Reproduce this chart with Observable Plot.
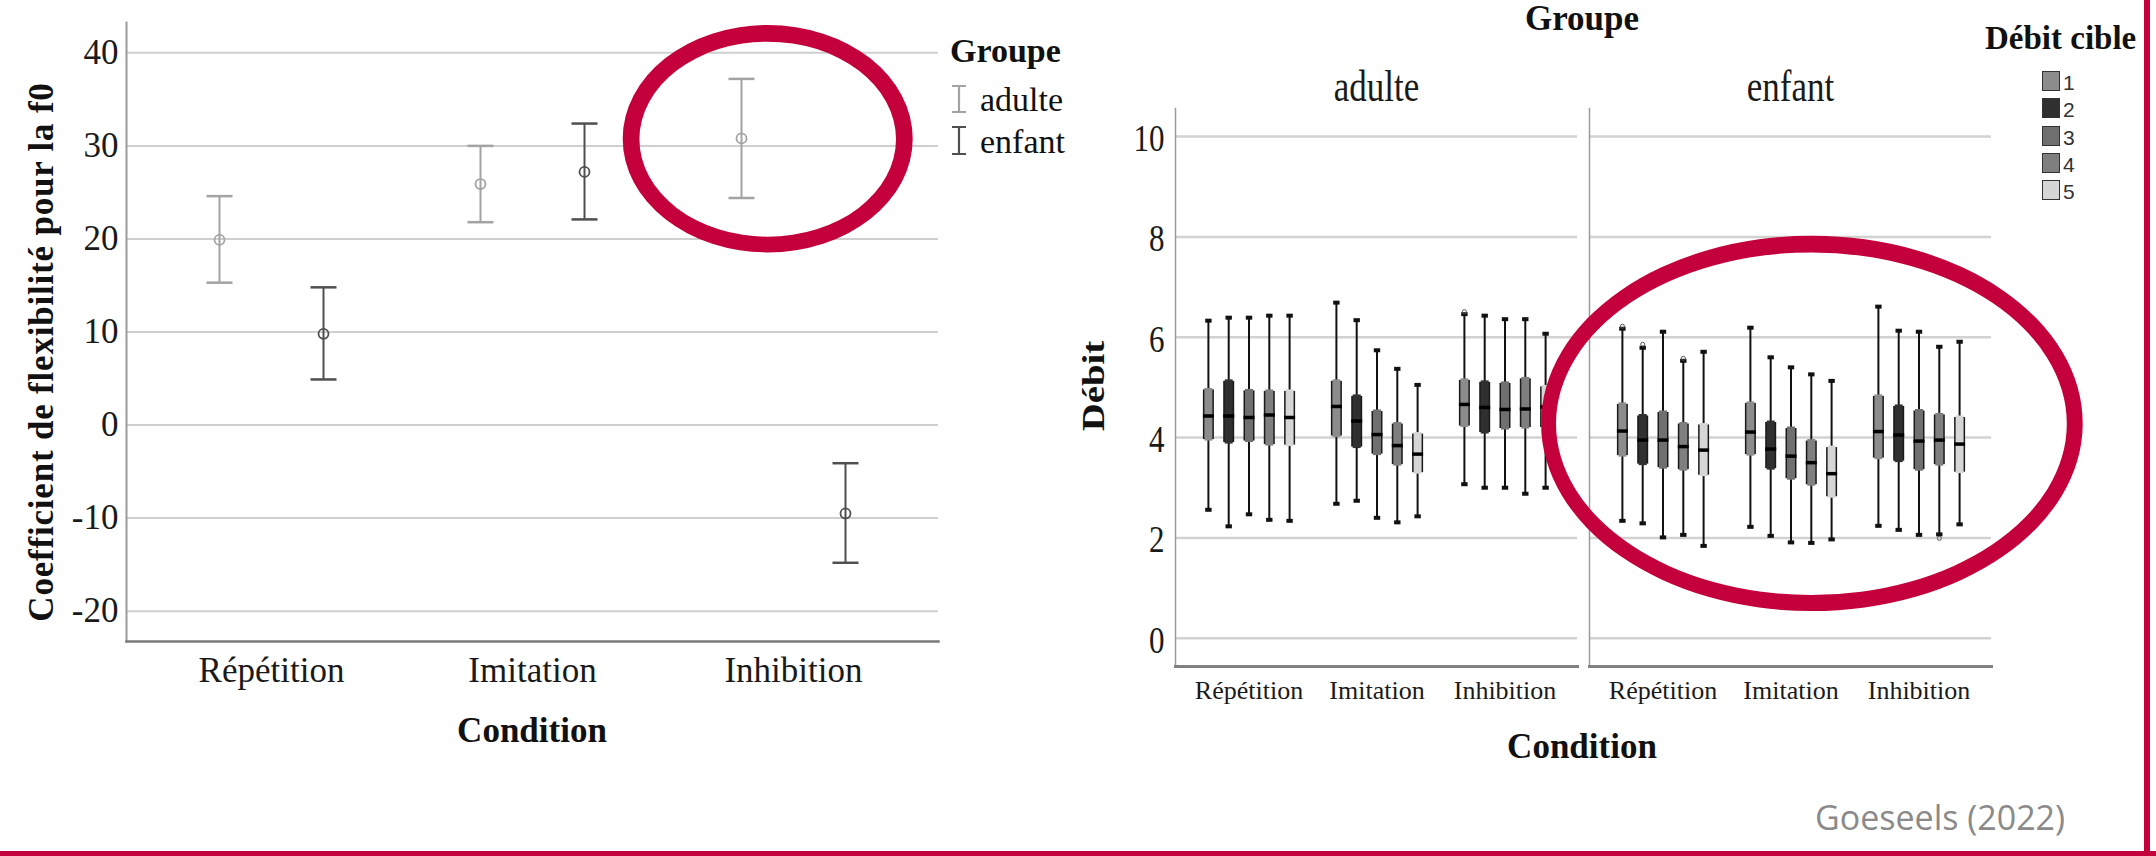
<!DOCTYPE html>
<html><head><meta charset="utf-8">
<script src="https://cdn.jsdelivr.net/npm/d3@7"></script>
<script src="https://cdn.jsdelivr.net/npm/@observablehq/plot@0.6"></script>
<style>
html,body{margin:0;padding:0;background:#fff;}
#root{position:relative;width:2156px;height:856px;overflow:hidden;background:#fff;font-family:"Liberation Serif","Times New Roman",serif;color:#111;}
.abs{position:absolute;white-space:nowrap;line-height:1;}
.b{font-weight:bold;}
</style></head><body><div id="root"></div>
<script>
// ---------- DATA ----------
const conditions = ["Répétition", "Imitation", "Inhibition"];
const groupes = ["adulte", "enfant"];

// Left chart: coefficient de flexibilité pour la f0 (mean and interval)
const flexMeanAdulte = [19.9, 25.9, 30.8];
const flexLowAdulte  = [15.3, 21.8, 24.4];
const flexHighAdulte = [24.6, 30.0, 37.2];
const flexMeanEnfant = [9.8, 27.2, -9.5];
const flexLowEnfant  = [4.9, 22.1, -14.8];
const flexHighEnfant = [14.8, 32.4, -4.1];
const flexTicks = [-20, -10, 0, 10, 20, 30, 40];

// Right chart: Débit boxplots, order = groupe × condition × débit cible (1..5)
const debits = ["1", "2", "3", "4", "5"];
const debitColors = ["#8c8c8c", "#303030", "#6f6f6f", "#7f7f7f", "#d6d6d6"];
const debitTicks = [0, 2, 4, 6, 8, 10];
const whiskerLow = [
  2.56, 2.23, 2.47, 2.36, 2.34,  2.68, 2.74, 2.40, 2.31, 2.43,  3.07, 3.00, 3.00, 2.88, 3.00,
  2.34, 2.29, 2.01, 2.06, 1.84,  2.22, 2.04, 1.91, 1.90, 1.97,  2.24, 2.16, 2.06, 2.07, 2.27];
const quart1 = [
  3.96, 3.90, 3.93, 3.86, 3.85,  4.03, 3.81, 3.67, 3.46, 3.30,  4.23, 4.10, 4.18, 4.20, 4.20,
  3.64, 3.47, 3.40, 3.36, 3.25,  3.66, 3.38, 3.18, 3.06, 2.82,  3.59, 3.53, 3.36, 3.46, 3.31];
const median = [
  4.43, 4.43, 4.40, 4.45, 4.40,  4.62, 4.33, 4.06, 3.84, 3.67,  4.66, 4.60, 4.56, 4.57, 4.61,
  4.13, 3.95, 3.95, 3.82, 3.75,  4.11, 3.77, 3.63, 3.50, 3.28,  4.12, 4.05, 3.93, 3.95, 3.87];
const quart3 = [
  4.95, 5.12, 4.93, 4.92, 4.92,  5.12, 4.82, 4.52, 4.27, 4.07,  5.14, 5.10, 5.08, 5.17, 5.01,
  4.66, 4.43, 4.50, 4.27, 4.25,  4.68, 4.30, 4.18, 3.93, 3.80,  4.82, 4.62, 4.53, 4.45, 4.40];
const whiskerHigh = [
  6.33, 6.39, 6.39, 6.43, 6.43,  6.69, 6.34, 5.74, 5.37, 5.05,  6.46, 6.43, 6.36, 6.36, 6.07,
  6.17, 5.79, 6.11, 5.53, 5.71,  6.19, 5.60, 5.40, 5.26, 5.13,  6.61, 6.13, 6.11, 5.81, 5.91];
const outlierGroupe    = ["adulte", "enfant", "enfant", "enfant", "enfant"];
const outlierCondition = ["Inhibition", "Répétition", "Répétition", "Répétition", "Inhibition"];
const outlierDebit     = ["1", "1", "2", "4", "4"];
const outlierValue     = [6.51, 6.22, 5.86, 5.58, 1.99];

// ---------- HELPERS ----------
const root = document.getElementById("root");
const hline = w => ({draw(ctx) { ctx.moveTo(-w, 0); ctx.lineTo(w, 0); }});
function place(el, left, top) {
  el.style.position = "absolute"; el.style.left = left + "px"; el.style.top = top + "px";
  root.appendChild(el); return el;
}
function label(text, css) {
  const d = document.createElement("div");
  d.className = "abs"; d.textContent = text;
  Object.assign(d.style, css);
  root.appendChild(d); return d;
}

// ---------- LEFT CHART ----------
const leftRows = conditions.flatMap((c, i) => [
  {groupe: "adulte", condition: c, mean: flexMeanAdulte[i], lo: flexLowAdulte[i], hi: flexHighAdulte[i]},
  {groupe: "enfant", condition: c, mean: flexMeanEnfant[i], lo: flexLowEnfant[i], hi: flexHighEnfant[i]}
]);
const groupStyle = {adulte: {stroke: "#a3a3a3", dx: -52}, enfant: {stroke: "#4f4f4f", dx: 52}};

const left = Plot.plot({
  width: 1000, height: 700,
  marginLeft: 126, marginRight: 62, marginTop: 22, marginBottom: 59,
  style: {fontFamily: "'Liberation Serif','Times New Roman',serif", color: "#1a1a1a", background: "transparent", overflow: "visible"},
  x: {type: "point", domain: conditions, padding: 0.55},
  y: {domain: [-23.26, 43.26]},
  marks: [
    Plot.gridY(flexTicks, {stroke: "#cfcfcf", strokeWidth: 2, strokeOpacity: 1}),
    Plot.frame({anchor: "left", stroke: "#9a9a9a", strokeWidth: 2}),
    Plot.frame({anchor: "bottom", stroke: "#7a7a7a", strokeWidth: 2.5}),
    Plot.axisY(flexTicks, {tickSize: 0, tickPadding: 8, fontSize: 35, tickFormat: d => String(d), label: null}),
    Plot.axisX({tickSize: 0, tickPadding: 16, fontSize: 35, label: null}),
    ...groupes.flatMap(g => {
      const rows = leftRows.filter(r => r.groupe === g);
      const {stroke, dx} = groupStyle[g];
      return [
        Plot.ruleX(rows, {x: "condition", y1: "lo", y2: "hi", stroke, strokeWidth: 2, dx}),
        Plot.dot(rows, {x: "condition", y: "lo", symbol: hline(13), stroke, strokeWidth: 2.5, fill: "none", dx}),
        Plot.dot(rows, {x: "condition", y: "hi", symbol: hline(13), stroke, strokeWidth: 2.5, fill: "none", dx}),
        Plot.dot(rows, {x: "condition", y: "mean", r: 5, stroke, strokeWidth: 1.8, fill: "none", dx})
      ];
    })
  ]
});
place(left, 0, 0);

// ---------- RIGHT CHART ----------
const boxRows = [];
{
  let i = 0;
  for (const g of groupes) for (const c of conditions) for (let k = 0; k < debits.length; k++, i++) {
    boxRows.push({groupe: g, condition: c, debit: debits[k], k,
      lo: whiskerLow[i], q1: quart1[i], med: median[i], q3: quart3[i], hi: whiskerHigh[i]});
  }
}
const outRows = outlierValue.map((v, i) => ({groupe: outlierGroupe[i], condition: outlierCondition[i],
  k: debits.indexOf(outlierDebit[i]), value: v}));
const boxStep = 20.3;
const boxMarks = debits.flatMap((d, k) => {
  const rows = boxRows.filter(r => r.k === k);
  const outs = outRows.filter(r => r.k === k);
  const dx = (k - 2) * boxStep;
  const base = {fx: "groupe", x: "condition", dx};
  return [
    Plot.ruleX(rows, {...base, y1: "lo", y2: "hi", stroke: "#111", strokeWidth: 2}),
    Plot.dot(rows, {...base, y: "lo", symbol: hline(3.2), stroke: "#111", strokeWidth: 4, fill: "none"}),
    Plot.dot(rows, {...base, y: "hi", symbol: hline(3.2), stroke: "#111", strokeWidth: 4, fill: "none"}),
    Plot.ruleX(rows, {...base, y1: "q1", y2: "q3", stroke: "#1a1a1a", strokeWidth: 11}),
    Plot.ruleX(rows, {...base, y1: "q1", y2: "q3", stroke: debitColors[k], strokeWidth: 8, insetTop: 1.5, insetBottom: 1.5}),
    Plot.dot(rows, {...base, y: "med", symbol: hline(5.5), stroke: "#000", strokeWidth: 3.5, fill: "none"}),
    Plot.dot(outs, {...base, y: "value", r: 2, stroke: "#555", strokeWidth: 1, fill: "none"})
  ];
});

const right = Plot.plot({
  width: 1156, height: 856,
  marginLeft: 174.5, marginRight: 165, marginTop: 108, marginBottom: 190,
  style: {fontFamily: "'Liberation Serif','Times New Roman',serif", color: "#1a1a1a", background: "transparent", overflow: "visible"},
  fx: {domain: groupes, paddingInner: 0.0278, paddingOuter: 0, label: null},
  x: {type: "point", domain: conditions, padding: 0.56},
  y: {domain: [-0.564, 10.56]},
  marks: [
    Plot.gridY(debitTicks, {stroke: "#d2d2d2", strokeWidth: 2.5, strokeOpacity: 1}),
    Plot.frame({anchor: "left", stroke: "#9a9a9a", strokeWidth: 1.5}),
    Plot.frame({anchor: "bottom", stroke: "#808080", strokeWidth: 3}),
    Plot.axisY(debitTicks, {tickSize: 0, tickPadding: 11, fontSize: 31, dy: 2, tickFormat: d => String(d), label: null}),
    Plot.axisX({tickSize: 0, tickPadding: 14, fontSize: 26, label: null}),
    Plot.axisFx({anchor: "top", tickSize: 0, tickPadding: 8, fontSize: 35, label: null}),
    ...boxMarks
  ]
});
place(right, 1000, 0);
// vertical stretch of some labels, as in the reference image
right.querySelectorAll('g[aria-label="fx-axis tick label"] text, g[aria-label="y-axis tick label"] text').forEach(t => {
  const tr = t.getAttribute("transform");
  if (tr && tr.includes("translate")) t.setAttribute("transform", tr + " scale(1,1.25)");
});

// ---------- TEXTS / LEGENDS ----------
label("Coefficient de flexibilité pour la f0", {left: "41px", top: "352px", fontSize: "35px", fontWeight: "bold",
  letterSpacing: "0.8px", transform: "translate(-50%,-50%) rotate(-90deg)"});
label("Condition", {left: "532px", top: "713px", fontSize: "35px", fontWeight: "bold", transform: "translateX(-50%)"});
label("Groupe", {left: "950px", top: "34px", fontSize: "34px", fontWeight: "bold"});
label("adulte", {left: "980px", top: "83px", fontSize: "34px"});
label("enfant", {left: "980px", top: "124.5px", fontSize: "34px"});
{
  const ns = "http://www.w3.org/2000/svg";
  const s = document.createElementNS(ns, "svg");
  s.setAttribute("width", 20); s.setAttribute("height", 80);
  s.style.position = "absolute"; s.style.left = "949px"; s.style.top = "82px";
  const beams = [{y1: 4, y2: 30, c: "#a3a3a3"}, {y1: 45, y2: 72, c: "#4f4f4f"}];
  for (const b of beams) {
    const p = document.createElementNS(ns, "path");
    p.setAttribute("d", `M3,${b.y1}H17M10,${b.y1}V${b.y2}M3,${b.y2}H17`);
    p.setAttribute("stroke", b.c); p.setAttribute("stroke-width", 2.2); p.setAttribute("fill", "none");
    s.appendChild(p);
  }
  root.appendChild(s);
}

label("Groupe", {left: "1582px", top: "1px", fontSize: "35px", fontWeight: "bold", transform: "translateX(-50%)"});
label("Débit", {left: "1093px", top: "386px", fontSize: "31px", fontWeight: "bold",
  transform: "translate(-50%,-50%) rotate(-90deg) scaleX(1.25)"});
label("Condition", {left: "1582px", top: "729px", fontSize: "35px", fontWeight: "bold", transform: "translateX(-50%)"});
label("Débit cible", {left: "1985px", top: "22px", fontSize: "33px", fontWeight: "bold"});
{
  const tops = [71, 98, 126, 153, 180];
  debits.forEach((d, k) => {
    const sw = document.createElement("div");
    Object.assign(sw.style, {position: "absolute", left: "2042px", top: tops[k] + "px", width: "16px", height: "18px",
      background: debitColors[k], border: "1.5px solid #333"});
    root.appendChild(sw);
    label(d, {left: "2063px", top: (tops[k] + 1) + "px", fontSize: "21px", fontFamily: "'Liberation Sans',Arial,sans-serif", color: "#333"});
  });
}
label("Goeseels (2022)", {left: "1815px", top: "800px", fontSize: "34px", fontFamily: "'Open Sans',sans-serif", color: "#8a8a8a"});

// ---------- ANNOTATIONS: red ellipses and border ----------
{
  const ns = "http://www.w3.org/2000/svg";
  const s = document.createElementNS(ns, "svg");
  s.setAttribute("width", 2156); s.setAttribute("height", 856);
  Object.assign(s.style, {position: "absolute", left: 0, top: 0, pointerEvents: "none"});
  const ell = (cx, cy, rx, ry) => `M${cx - rx},${cy}a${rx},${ry} 0 1,0 ${2 * rx},0a${rx},${ry} 0 1,0 ${-2 * rx},0Z`;
  const rings = [
    [[767.7, 138.7, 145, 113.7], [767.7, 139.2, 128.3, 97.5]],
    [[1811.9, 423.4, 270.8, 187.7], [1811.4, 423.7, 255.4, 171.3]]
  ];
  for (const [o, i] of rings) {
    const p = document.createElementNS(ns, "path");
    p.setAttribute("d", ell(...o) + ell(...i));
    p.setAttribute("fill", "#c3003b"); p.setAttribute("fill-rule", "evenodd");
    s.appendChild(p);
  }
  const r1 = document.createElementNS(ns, "rect");
  r1.setAttribute("x", 0); r1.setAttribute("y", 851); r1.setAttribute("width", 2156); r1.setAttribute("height", 5); r1.setAttribute("fill", "#c3003b");
  const r2 = document.createElementNS(ns, "rect");
  r2.setAttribute("x", 2144); r2.setAttribute("y", 0); r2.setAttribute("width", 6); r2.setAttribute("height", 856); r2.setAttribute("fill", "#c3003b");
  s.appendChild(r1); s.appendChild(r2);
  root.appendChild(s);
}
</script></body></html>
